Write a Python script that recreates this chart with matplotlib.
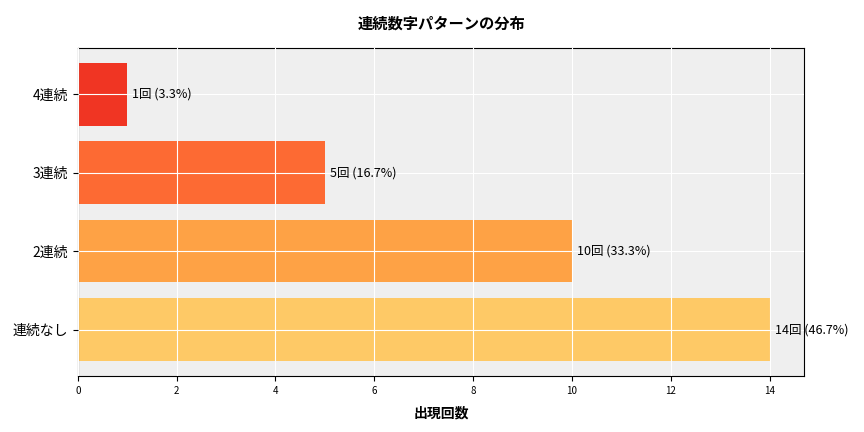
import matplotlib.pyplot as plt

plt.rcParams['font.family'] = 'Noto Sans CJK JP'

categories = ['連続なし', '2連続', '3連続', '4連続']
counts = [14, 10, 5, 1]
percents = [46.7, 33.3, 16.7, 3.3]
colors = ['#fec966', '#fea245', '#fd6a33', '#f03523']

fig = plt.figure(figsize=(8.64, 4.32), dpi=100)
ax = fig.add_axes([0.090, 0.130, 0.841, 0.759])
ax.set_facecolor('#efefef')
ax.set_axisbelow(False)
bars = ax.barh(categories, counts, color=colors, height=0.8, zorder=2)
ax.grid(True, color='white', linewidth=0.8, zorder=3)
for b, c, p in zip(bars, counts, percents):
    ax.text(b.get_width() + 0.1, b.get_y() + b.get_height() / 2,
            f'{c}回 ({p}%)', va='center', ha='left', fontsize=9, zorder=4)
ax.set_xlim(0, 14.7)
ax.tick_params(axis='x', labelsize=7)
ax.tick_params(axis='y', labelsize=10)
ax.set_xlabel('出現回数', fontsize=10, fontweight='bold', labelpad=8)
ax.set_title('連続数字パターンの分布', fontsize=11, fontweight='bold', pad=14)
fig.savefig('out.png', dpi=100)
plt.close(fig)
